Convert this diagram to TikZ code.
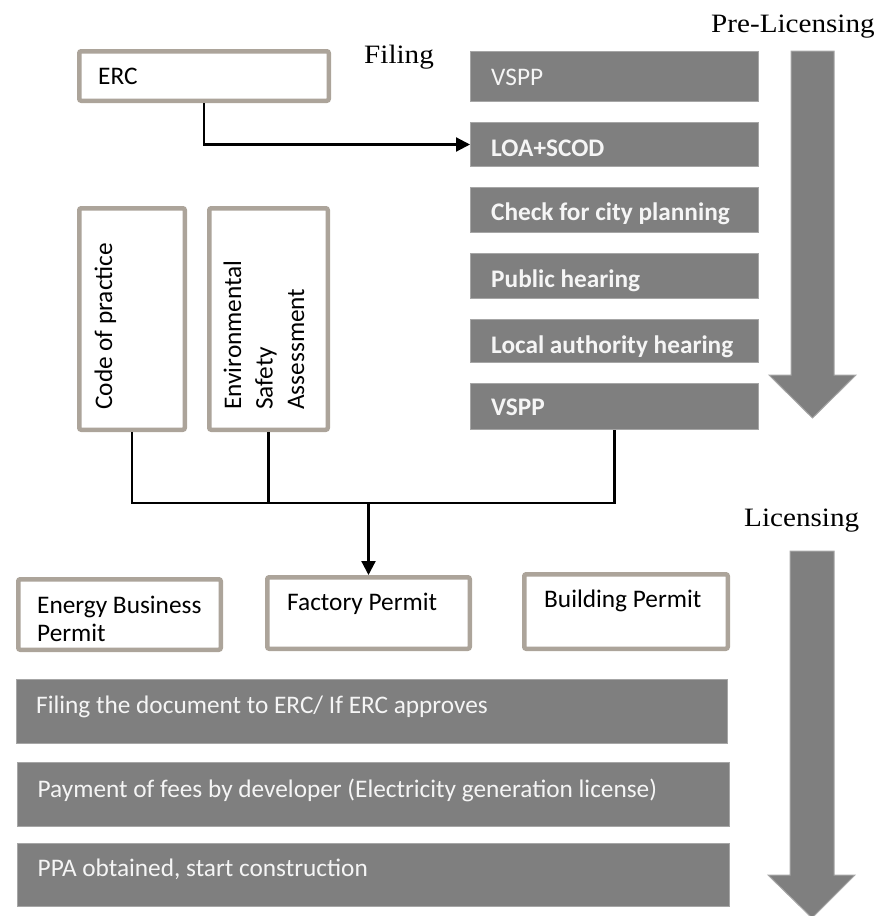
\documentclass[tikz,border=0pt]{standalone}
\usepackage{fontspec}
\setmainfont{Carlito}
\newfontfamily\labelfont[FakeStretch=1.1]{Liberation Serif}
\usetikzlibrary{arrows.meta}
\definecolor{tanline}{RGB}{172,164,154}
\definecolor{boxgray}{RGB}{127,127,127}
\definecolor{edgegray}{RGB}{166,166,166}
\definecolor{boxtext}{RGB}{245,245,245}
\begin{document}
\begin{tikzpicture}[x=1pt,y=-1pt,
  tanbox/.style={draw=tanline, line width=4.5pt, fill=white, rounded corners=2pt, inner sep=0pt},
  graybox/.style={draw=edgegray, line width=1pt, fill=boxgray, inner sep=0pt},
  txt/.style={anchor=base west, inner sep=0pt, font=\fontsize{25.3}{30}\selectfont},
  wtxt/.style={txt, text=boxtext},
  btxt/.style={wtxt, font=\fontsize{25.3}{30}\selectfont\bfseries},
  phase/.style={anchor=base west, inner sep=0pt, font=\labelfont\fontsize{26.5}{30}\selectfont},
  conn/.style={line width=2.2pt, black},
  tip/.style={-{Triangle[width=14pt,length=14pt]}},
  bigarrow/.style={fill=boxgray, draw=edgegray, line width=1pt}
]
\useasboundingbox (0,0) rectangle (878,916);

% phase labels
\node[phase] (lfiling) at (364,63) {Filing};
\node[phase] (lpre) at (711,32) {Pre-Licensing};
\node[phase] (llic) at (744,526) {Licensing};

% big arrows
\path[bigarrow] (791,51) -- (834,51) -- (834,375) -- (856,375) -- (812.5,418) -- (769,375) -- (791,375) -- cycle;
\path[bigarrow] (790,551) -- (834,551) -- (834,875) -- (855,875) -- (812,918) -- (768,875) -- (790,875) -- cycle;

% tan boxes
\node[tanbox, minimum width=249.5pt, minimum height=49.5pt] (erc) at (204,76) {};
\node[txt] (tErc) at (98,84) {ERC};
\node[tanbox, minimum width=105.5pt, minimum height=221.5pt] (code) at (132,319) {};
\node[txt, rotate=90] (tCode) at (112,410) {Code of practice};
\node[tanbox, minimum width=118.5pt, minimum height=221.5pt] (env) at (268.5,319) {};
\node[txt, rotate=90] (tEnv1) at (241,410) {Environmental};
\node[txt, rotate=90] (tEnv2) at (272.5,410) {Safety};
\node[txt, rotate=90] (tEnv3) at (304,410) {Assessment};

\node[tanbox, minimum width=202.5pt, minimum height=70.5pt] (energy) at (119.5,614.5) {};
\node[txt] (tEnergy1) at (37,613) {Energy Business};
\node[txt] (tEnergy2) at (37,641.5) {Permit};
\node[tanbox, minimum width=202.5pt, minimum height=71.5pt] (factory) at (368.5,613) {};
\node[txt] (tFactory) at (287,610) {Factory Permit};
\node[tanbox, minimum width=203.5pt, minimum height=74.5pt] (building) at (626,611.5) {};
\node[txt] (tBuilding) at (544,607) {Building Permit};

% gray boxes: pre-licensing
\node[graybox, minimum width=288pt, minimum height=50pt] (vspp1) at (614.5,76.5) {};
\node[wtxt] (tV1) at (491,85) {VSPP};
\node[graybox, minimum width=288pt, minimum height=44pt] (loa) at (614.5,144.5) {};
\node[btxt] (tLoa) at (491,156) {LOA+SCOD};
\node[graybox, minimum width=288pt, minimum height=45pt] (check) at (614.5,210) {};
\node[btxt] (tCheck) at (491,220) {Check for city planning};
\node[graybox, minimum width=288pt, minimum height=45pt] (public) at (614.5,276) {};
\node[btxt] (tPublic) at (491,287) {Public hearing};
\node[graybox, minimum width=288pt, minimum height=43pt] (local) at (614.5,341) {};
\node[btxt] (tLocal) at (491,353) {Local authority hearing};
\node[graybox, minimum width=288pt, minimum height=46pt] (vspp2) at (614.5,406.5) {};
\node[btxt] (tV2) at (491,415) {VSPP};

% gray boxes: licensing
\node[graybox, minimum width=711pt, minimum height=64pt] (filedoc) at (372,711.5) {};
\node[wtxt] (tFile) at (36,713) {Filing the document to ERC/ If ERC approves};
\node[graybox, minimum width=712pt, minimum height=64pt] (pay) at (373.5,794.5) {};
\node[wtxt] (tPay) at (37.5,797) {Payment of fees by developer (Electricity generation license)};
\node[graybox, minimum width=712pt, minimum height=63pt] (ppa) at (373.5,875) {};
\node[wtxt] (tPpa) at (37.5,876.5) {PPA obtained, start construction};

% connectors
\draw[conn, tip] (erc.south) |- (loa.west);
\coordinate (bus) at (368.5,503);
\draw[conn] (code.south) -- (code.south |- bus) -- (vspp2.south |- bus) -- (vspp2.south);
\draw[conn] (env.south) -- (env.south |- bus);
\draw[conn, tip] (factory.north |- bus) -- (factory.north);
\end{tikzpicture}
\end{document}
